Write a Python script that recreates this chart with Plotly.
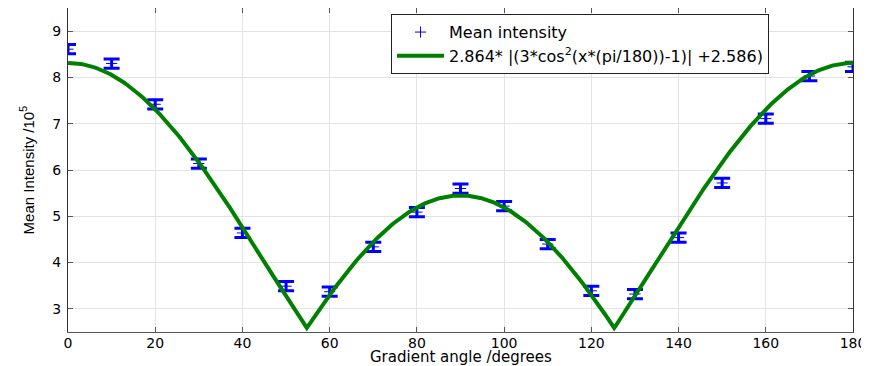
import numpy as np
import plotly.graph_objects as go

angles = [0, 10, 20, 30, 40, 50, 60, 70, 80, 90, 100, 110, 120, 130, 140, 150, 160, 170, 180]
intensity = [8.61, 8.30, 7.42, 6.14, 4.64, 3.49, 3.37, 4.34, 5.09, 5.60, 5.22, 4.40, 3.39, 3.32, 4.54, 5.72, 7.11, 8.03, 8.23]
err = [0.1] * len(angles)
x_ticks = [0, 20, 40, 60, 80, 100, 120, 140, 160, 180]
y_ticks = [3, 4, 5, 6, 7, 8, 9]

fit_a = 2.864
fit_b = 2.586
fit_x = np.linspace(0, 180, 721)
fit_y = fit_a * np.abs(3 * np.cos(fit_x * np.pi / 180) ** 2 - 1) + fit_b

fig = go.Figure()
fig.add_trace(go.Scatter(
    x=angles, y=intensity, mode="markers",
    marker=dict(symbol="cross-thin", size=8, color="#0000ff", line=dict(color="#0000ff", width=1)),
    error_y=dict(type="data", array=err, color="#0000ff", thickness=3, width=8),
    name="Mean intensity",
))
fig.add_trace(go.Scatter(
    x=fit_x, y=fit_y, mode="lines",
    line=dict(color="#008000", width=4),
    name="2.864* |(3*cos<sup>2</sup>(x*(pi/180))-1)| +2.586)",
))

tick_font = dict(family="DejaVu Sans, sans-serif", size=14, color="black")
# the page body adds an 8px offset, so the figure is sized and margined to compensate
fig.update_layout(
    width=861, height=358,
    margin=dict(l=60, r=16, t=0, b=34),
    paper_bgcolor="white", plot_bgcolor="white",
    font=dict(family="DejaVu Sans, sans-serif", size=14, color="black"),
    showlegend=True,
    legend=dict(x=0.4115, y=0.981, xanchor="left", yanchor="top",
                bordercolor="#222", borderwidth=1, bgcolor="white",
                font=dict(size=16), tracegroupgap=0, itemwidth=47),
    annotations=[
        dict(text="Gradient angle /degrees", xref="paper", yref="paper",
             x=0.5, y=-0.076, xanchor="center", yanchor="middle", showarrow=False,
             font=dict(family="DejaVu Sans, sans-serif", size=15, color="black")),
        dict(text="Mean Intensity /10<sup>5</sup>", xref="paper", yref="paper",
             x=-0.053, y=0.5, xanchor="center", yanchor="middle", showarrow=False,
             textangle=-90,
             font=dict(family="Liberation Sans Narrow, Arial Narrow, Liberation Sans, sans-serif", size=15, color="black")),
    ],
)
fig.update_xaxes(
    range=[0, 180], tickvals=x_ticks, automargin=False,
    showgrid=True, gridcolor="#e3e3e3", gridwidth=1,
    showline=True, linecolor="#555", linewidth=1, mirror="ticks",
    ticks="inside", ticklen=5, tickcolor="#555",
    zeroline=False, tickfont=tick_font, ticklabelstandoff=-2,
)
fig.update_yaxes(
    range=[2.5, 9.5], tickvals=y_ticks, automargin=False,
    showgrid=True, gridcolor="#e3e3e3", gridwidth=1,
    showline=True, linecolor="#333", linewidth=1, mirror="ticks",
    ticks="inside", ticklen=5, tickcolor="#555",
    zeroline=False, tickfont=tick_font, ticklabelstandoff=3,
)
fig.write_html("out.html")
